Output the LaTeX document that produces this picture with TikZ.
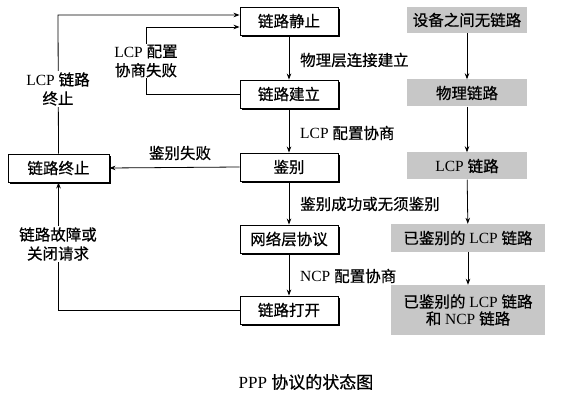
\documentclass[tikz,border=0pt]{standalone}
\usepackage{fontspec}
\setmainfont{Liberation Serif}
\newfontfamily\cjk[FakeBold=0.6]{Noto Sans CJK SC}
\newcommand\zh[1]{{\cjk #1}}
\usetikzlibrary{arrows.meta,shadows,calc}
\tikzset{
  state/.style={draw=black, line width=0.9pt, fill=white, minimum width=98pt, minimum height=28pt, inner sep=0pt,
    drop shadow={shadow xshift=1.8pt, shadow yshift=-1.8pt, fill=black, opacity=1}},
  gbox/.style={fill=black!22, minimum height=27pt, inner sep=0pt},
  lbl/.style={align=center, inner sep=1pt},
  wl/.style={lbl, fill=white},
  conn/.style={line width=0.8pt, -{Stealth[length=6pt,width=4.5pt]}},
}
\begin{document}
\begin{tikzpicture}[x=1pt,y=-1pt, every node/.style={font=\fontsize{15.5}{19}\selectfont}]
\useasboundingbox (0,0) rectangle (573,419);
% middle states
\node[state] (quiet) at (289,21) {\zh{链路静止}};
\node[state] (est) at (289,94) {\zh{链路建立}};
\node[state] (auth) at (289,167) {\zh{鉴别}};
\node[state] (net) at (289,239) {\zh{网络层协议}};
\node[state] (open) at (289,310) {\zh{链路打开}};
\node[state, minimum width=101pt] (term) at (58.5,168) {\zh{链路终止}};
% right column
\node[gbox, minimum width=120pt, minimum height=26pt] (r1) at (467,20) {\zh{设备之间无链路}};
\node[gbox, minimum width=120pt] (r2) at (467,93) {\zh{物理链路}};
\node[gbox, minimum width=120pt] (r3) at (467,166) {LCP \zh{链路}};
\node[gbox, minimum width=154pt, minimum height=28pt] (r4) at (468,238) {\zh{已鉴别的} LCP \zh{链路}};
\node[gbox, minimum width=154pt, minimum height=50pt, align=center] (r5) at (468,310) {\zh{已鉴别的} LCP \zh{链路}\\[-2pt]\zh{和} NCP \zh{链路}};
% vertical arrows
\draw[conn] (quiet) -- (est);
\draw[conn] (est) -- (auth);
\draw[conn] (auth) -- (net);
\draw[conn] (net) -- (open);
\draw[conn] (r1) -- (r2);
\draw[conn] (r2) -- (r3);
\draw[conn] (r3) -- (r4);
\draw[conn] (r4) -- (r5);
% loops
\coordinate (c1) at (58,15);
\coordinate (c2) at (146,27);
\draw[conn] (term.north) -- (c1) -- (quiet.west |- c1);
\draw[conn] (est.west) -| (c2) -- (quiet.west |- c2);
\draw[conn] (auth.west) -- (term.east);
\draw[conn] (open.west) -| (term.south);
% labels
\node[wl] (l1) at (58,89) {LCP \zh{链路}\\\zh{终止}};
\node[wl] (l2) at (146,61) {LCP \zh{配置}\\\zh{协商失败}};
\node[wl] (l3) at (58,244) {\zh{链路故障或}\\\zh{关闭请求}};
\node[lbl] (l4) at (180,153) {\zh{鉴别失败}};
\node[lbl, anchor=west] (m1) at (299,60) {\zh{物理层连接建立}};
\node[lbl, anchor=west] (m2) at (299,133) {LCP \zh{配置协商}};
\node[lbl, anchor=west] (m3) at (299,204) {\zh{鉴别成功或无须鉴别}};
\node[lbl, anchor=west] (m4) at (299,276) {NCP \zh{配置协商}};
\node[lbl, font=\fontsize{17}{20}\selectfont] (cap) at (306,382) {PPP \zh{协议的状态图}};
\end{tikzpicture}
\end{document}
